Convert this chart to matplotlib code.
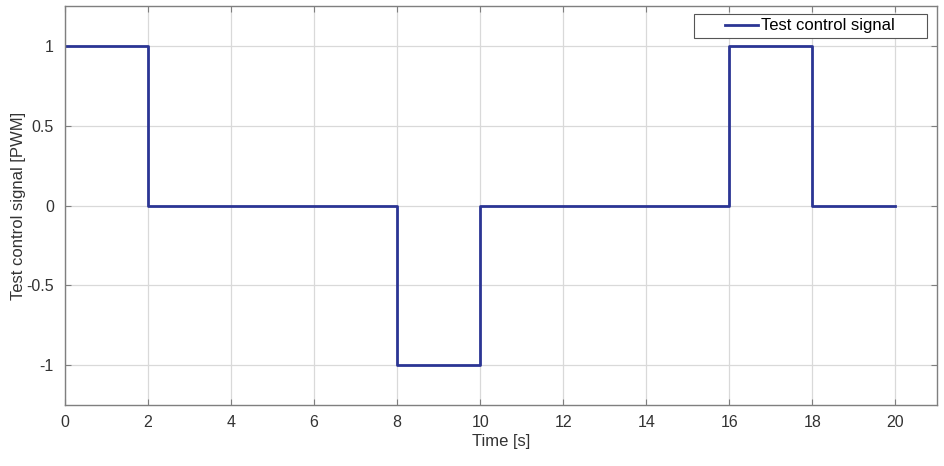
import numpy as np
import matplotlib
matplotlib.use("Agg")
import matplotlib.pyplot as plt
from matplotlib.patches import Rectangle

plt.rcParams['font.family'] = ['Liberation Sans', 'DejaVu Sans']

# switching times [s] and the PWM level held from each one
t = [0, 2, 8, 10, 16, 18, 20]
u = [1, 0, -1, 0, 1, 0, 0]

xticks = [0, 2, 4, 6, 8, 10, 12, 14, 16, 18, 20]
yticks = [-1, -0.5, 0, 0.5, 1]
ytick_labels = ['-1', '-0.5', '0', '0.5', '1']

fig = plt.figure(figsize=(9.44, 4.66), dpi=100)
ax = fig.add_axes([65/944, 61/466, 872/944, 399/466])

ax.step(t, u, where='post', color='#2b3594', linewidth=2, label='Test control signal')

ax.set_xlim(0, 21)
ax.set_ylim(-1.25, 1.25)
ax.set_xticks(xticks)
ax.set_yticks(yticks)
ax.set_yticklabels(ytick_labels)
ax.grid(True, color='#d9d9d9', linewidth=0.9)
ax.set_axisbelow(True)

for s in ax.spines.values():
    s.set_color('#7f7f7f')
    s.set_linewidth(1)
ax.tick_params(direction='in', top=True, right=True, length=4, color='#7f7f7f',
               labelsize=11.5, labelcolor='#333333')
ax.tick_params(axis='x', pad=7)
ax.tick_params(axis='y', pad=8)

ax.set_xlabel('Time [s]', fontsize=12, color='#333333', labelpad=3)
ax.set_ylabel('Test control signal [PWM]', fontsize=12, color='#333333', labelpad=0)

# MATLAB-like legend box, wider than the entry itself
box = Rectangle((0.7213, 0.920), 0.2672, 0.060, transform=ax.transAxes,
                facecolor='white', edgecolor='#555555', linewidth=0.8, zorder=4.5)
ax.add_patch(box)
leg = ax.legend(loc='center left', bbox_to_anchor=(0.7569, 0.950), fontsize=12,
                frameon=False, borderpad=0, borderaxespad=0,
                handlelength=2.0, handletextpad=0.15)

fig.savefig('out.png', dpi=100)
